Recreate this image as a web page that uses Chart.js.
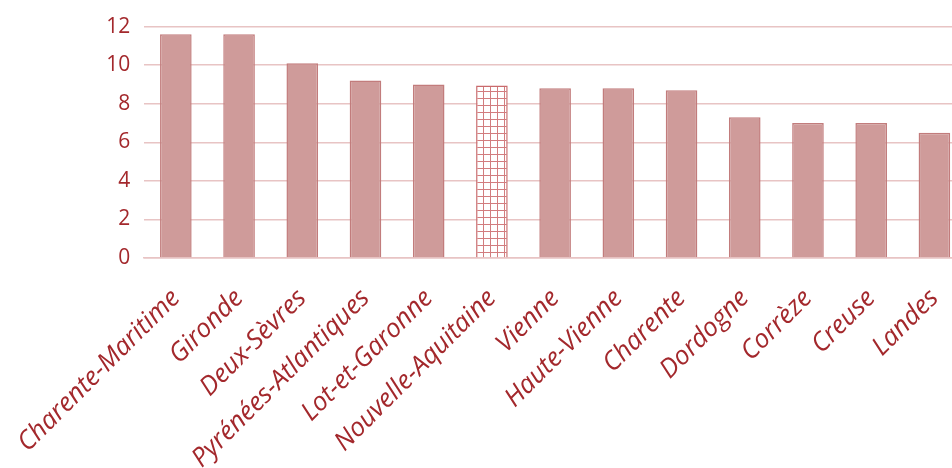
<!DOCTYPE html>
<html>
<head>
<meta charset="utf-8">
<script src="https://cdn.jsdelivr.net/npm/chart.js@4.4.0/dist/chart.umd.min.js"></script>
<style>
    html, body { margin: 0; padding: 0; background: #fff; overflow: hidden; }
    #wrap { width: 980px; height: 468px; }
</style>
</head>
<body>
<div id="wrap"><canvas id="deptChart" width="980" height="468"></canvas></div>
<script>
// Values
const departements = ['Charente-Maritime', 'Gironde', 'Deux-Sèvres', 'Pyrénées-Atlantiques', 'Lot-et-Garonne',
    'Nouvelle-Aquitaine', 'Vienne', 'Haute-Vienne', 'Charente', 'Dordogne', 'Corrèze', 'Creuse', 'Landes'];
const valeurs = [11.6, 11.6, 10.1, 9.2, 9.0, 8.95, 8.8, 8.8, 8.7, 7.3, 7.0, 7.0, 6.5];
const yTicks = [0, 2, 4, 6, 8, 10, 12];
const regionLabel = 'Nouvelle-Aquitaine';

const textColor = '#a3282c';
const barFill = '#cf9b9a';
const barBorder = '#c27c7c';

// Grid pattern for the regional average bar
function makeGridPattern() {
    const c = document.createElement('canvas');
    c.width = 7;
    c.height = 7;
    const g = c.getContext('2d');
    g.fillStyle = '#ffffff';
    g.fillRect(0, 0, 7, 7);
    g.fillStyle = '#d27c7e';
    g.fillRect(0, 0, 7, 1);
    g.fillRect(0, 0, 1, 7);
    return g.createPattern(c, 'repeat');
}

document.addEventListener('DOMContentLoaded', function() {
    const ctx = document.getElementById('deptChart');
    const pattern = makeGridPattern();

    const fills = departements.map(d => d === regionLabel ? pattern : barFill);
    const borders = departements.map(d => d === regionLabel ? '#c96a6c' : barBorder);

    new Chart(ctx, {
        type: 'bar',
        data: {
            labels: departements,
            datasets: [{
                data: valeurs,
                backgroundColor: fills,
                borderColor: borders,
                borderWidth: 1.5,
                barPercentage: 0.5,
                categoryPercentage: 1.0
            }]
        },
        options: {
            responsive: false,
            animation: false,
            layout: { padding: { left: 91, top: 23, right: 14, bottom: 0 } },
            plugins: {
                legend: { display: false },
                tooltip: { enabled: false }
            },
            scales: {
                x: {
                    grid: { display: false },
                    border: { color: '#e8c4c4', width: 1.5 },
                    ticks: {
                        color: textColor,
                        maxRotation: 45,
                        minRotation: 45,
                        autoSkip: false,
                        padding: 17,
                        font: { family: 'Open Sans', size: 26, style: 'italic' }
                    },
                    afterFit: function(scale) { scale.height = 210; }
                },
                y: {
                    min: 0,
                    max: 12,
                    afterBuildTicks: function(scale) {
                        scale.ticks = yTicks.map(v => ({ value: v }));
                    },
                    grid: { color: '#e8c4c4', lineWidth: 1.5, drawTicks: false },
                    border: { display: false },
                    ticks: {
                        color: textColor,
                        padding: 14,
                        font: { family: 'Open Sans', size: 21 }
                    }
                }
            }
        }
    });
});
</script>
</body>
</html>
